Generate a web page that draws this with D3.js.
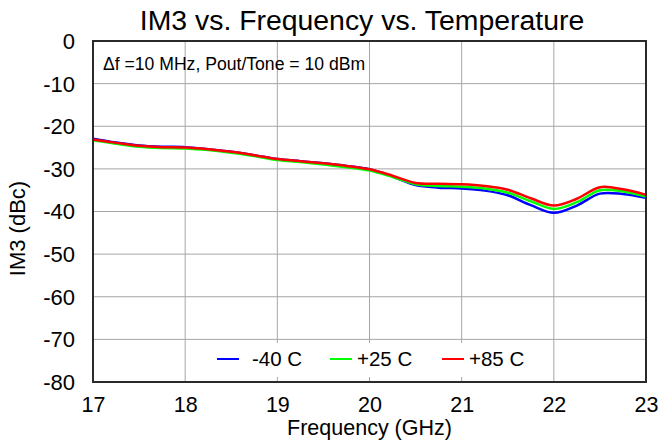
<!DOCTYPE html>
<html><head><meta charset="utf-8">
<script src="https://cdn.jsdelivr.net/npm/d3@7"></script>
<style>body{margin:0;background:#fff}svg{display:block;font-family:"Liberation Sans",Arial,sans-serif}</style>
</head><body>
<svg id="c" width="659" height="443"></svg>
<script>
const freqs = [17,17.25,17.5,17.75,18,18.25,18.5,18.75,19,19.25,19.5,19.75,20,20.25,20.5,20.75,21,21.25,21.5,21.75,22,22.25,22.5,22.75,23];
const im3_m40 = [-22.9,-23.8,-24.5,-24.8,-24.9,-25.4,-26.0,-26.8,-27.7,-28.2,-28.7,-29.3,-30.1,-31.8,-33.8,-34.4,-34.6,-35.1,-36.2,-38.5,-40.3,-38.6,-35.8,-35.9,-36.8];
const im3_p25 = [-23.3,-24.1,-24.8,-25.1,-25.2,-25.6,-26.2,-27.0,-27.9,-28.4,-29.0,-29.6,-30.4,-31.9,-33.6,-34.0,-34.2,-34.6,-35.6,-37.6,-39.4,-37.8,-35.0,-35.3,-36.5];
const im3_p85 = [-23.1,-23.9,-24.6,-24.9,-25.0,-25.4,-26.0,-26.8,-27.7,-28.2,-28.7,-29.3,-30.1,-31.6,-33.3,-33.5,-33.6,-34.0,-34.9,-36.9,-38.6,-37.0,-34.3,-34.8,-36.1];
const seriesNames = ["-40 C","+25 C","+85 C"];
const seriesColors = ["#0000ff","#00ff00","#ff0000"];
const xTicks = [17,18,19,20,21,22,23];
const yTicks = [0,-10,-20,-30,-40,-50,-60,-70,-80];
const title = "IM3 vs. Frequency vs. Temperature";
const note = "\u0394f =10 MHz, Pout/Tone = 10 dBm";

const svg = d3.select("#c");
const L=93,R=646,T=41,B=382;
const x = d3.scaleLinear().domain([17,23]).range([L,R]);
const y = d3.scaleLinear().domain([-80,0]).range([B,T]);

// grid
svg.append("g").selectAll("line").data(xTicks).join("line")
  .attr("x1",d=>x(d)).attr("x2",d=>x(d)).attr("y1",T).attr("y2",B)
  .attr("stroke","#a6a6a6").attr("stroke-width",1);
svg.append("g").selectAll("line").data(yTicks).join("line")
  .attr("x1",L).attr("x2",R).attr("y1",d=>y(d)).attr("y2",d=>y(d))
  .attr("stroke","#a6a6a6").attr("stroke-width",1);

// axes labels via d3 axes
const xa = svg.append("g").attr("transform",`translate(0,${B})`)
  .call(d3.axisBottom(x).tickValues(xTicks).tickSize(0).tickPadding(0).tickFormat(d=>String(d)));
xa.select(".domain").remove();
xa.selectAll("text").attr("font-size",21.5).attr("fill","#000").attr("font-family","Liberation Sans, Arial")
  .attr("dy",null).attr("y",30);
const ya = svg.append("g").attr("transform",`translate(${L},0)`)
  .call(d3.axisLeft(y).tickValues(yTicks).tickSize(0).tickPadding(18).tickFormat(d=>String(d)));
ya.select(".domain").remove();
ya.selectAll("text").attr("font-size",22).attr("fill","#000").attr("font-family","Liberation Sans, Arial").attr("dy","0.34em");

// lines
const data = [im3_m40, im3_p25, im3_p85];
const line = d3.line().x((d,i)=>x(freqs[i])).y(d=>y(d)).curve(d3.curveCatmullRom.alpha(0.5));
svg.append("g").selectAll("path").data([0,1,2]).join("path")
  .attr("d",i=>line(data[i])).attr("fill","none")
  .attr("stroke",i=>seriesColors[i]).attr("stroke-width",2.5);

// legend
const lg = svg.append("g");
lg.append("rect").attr("x",198).attr("y",343).attr("width",345).attr("height",34).attr("fill","#fff");
const lx = [217,330,442];
seriesNames.forEach((n,i)=>{
  lg.append("line").attr("x1",lx[i]).attr("x2",lx[i]+22).attr("y1",359).attr("y2",359)
    .attr("stroke",seriesColors[i]).attr("stroke-width",2);
  lg.append("text").attr("x",lx[i]+(i==0?35:27)).attr("y",366).attr("font-size",20.5).text(n);
});

// border
svg.append("rect").attr("x",L).attr("y",T).attr("width",R-L).attr("height",B-T)
  .attr("fill","none").attr("stroke","#2a2a2a").attr("stroke-width",2);

// note
svg.append("text").attr("x",103).attr("y",70).attr("font-size",17.6).text(note);
// title
svg.append("text").attr("x",362).attr("y",30).attr("text-anchor","middle").attr("font-size",28.4).text(title);
// axis titles
svg.append("text").attr("x",(L+R)/2).attr("y",434.5).attr("text-anchor","middle").attr("font-size",21.5).text("Frequency (GHz)");
svg.append("text").attr("transform",`translate(25,${(T+B)/2+17}) rotate(-90)`).attr("text-anchor","middle").attr("font-size",22).text("IM3 (dBc)");
</script>
</body></html>
